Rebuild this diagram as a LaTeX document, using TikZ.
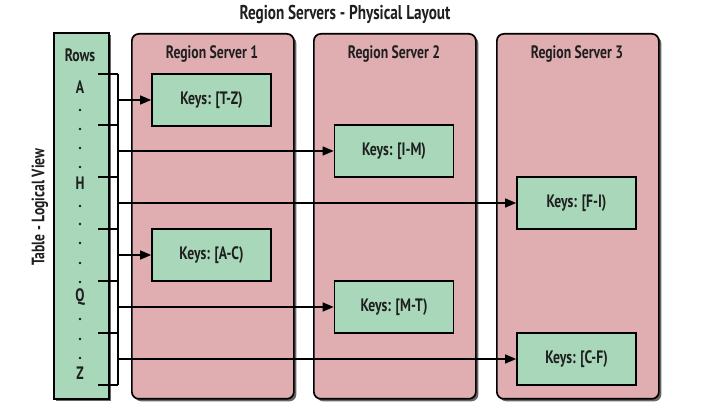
\documentclass[tikz,border=0pt]{standalone}
\usepackage{fontspec}
\setmainfont{PT Sans}[FakeStretch=0.76]
\usetikzlibrary{arrows.meta,shadows}
\definecolor{rsred}{HTML}{E0ADB1}
\definecolor{keygreen}{HTML}{A8D8B9}
\tikzset{
  every node/.style={font=\fontsize{18}{20}\selectfont\bfseries, text=black!88},
  shad/.style={drop shadow={shadow xshift=2.5pt,shadow yshift=-2.5pt,fill=black,opacity=0.6}},
  server/.style={draw=black, line width=1.7pt, fill=rsred, rounded corners=7pt, shad, inner sep=0pt, anchor=north west},
  rowcol/.style={draw=black, line width=1.7pt, fill=keygreen, shad, inner sep=0pt, anchor=north west},
  keybox/.style={draw=black, line width=1.7pt, fill=keygreen, minimum width=119pt, minimum height=52pt, inner sep=0pt},
  rowdot/.style={circle, fill=black!90, minimum size=2.6pt, inner sep=0pt},
  arr/.style={line width=1.4pt, -{Triangle[length=11pt,width=9pt]}},
  tick/.style={line width=1.4pt}
}
\begin{document}
\begin{tikzpicture}[x=1pt,y=-1pt]
\useasboundingbox (0,0) rectangle (707,419);
\node[font=\fontsize{20}{22}\selectfont\bfseries] (title) at (345,14) {Region Servers - Physical Layout};
% servers
\node[server, minimum width=162pt, minimum height=365pt] (rs1) at (131,33) {};
\node[server, minimum width=162pt, minimum height=365pt] (rs2) at (313,33) {};
\node[server, minimum width=162pt, minimum height=365pt] (rs3) at (496,33) {};
\node (rs1t) at (212,54) {Region Server 1};
\node (rs2t) at (394,54) {Region Server 2};
\node (rs3t) at (577,54) {Region Server 3};
% rows column
\node[rowcol, minimum width=55pt, minimum height=366pt] (rows) at (53,32) {};
\node (rowst) at (80,55) {Rows};
\node[rotate=90] (lv) at (40,207) {Table - Logical View};
\node (ra) at (80,87) {A};
\node (rh) at (80,183) {H};
\node (rq) at (80,297) {Q};
\node (rz) at (80,373) {Z};
\foreach \y [count=\i] in {110,129,148,167,206,224,243,263,282,319,339,358}
  \node[rowdot] (dot\i) at (80,\y) {};
% key boxes
\node[keybox] (tz) at (211.5,100) {Keys: [T-Z)};
\node[keybox] (im) at (394,151) {Keys: [I-M)};
\node[keybox] (fi) at (576.5,203) {Keys: [F-I)};
\node[keybox] (ac) at (211.5,255) {Keys: [A-C)};
\node[keybox] (mt) at (394,307) {Keys: [M-T)};
\node[keybox] (cf) at (576.5,359) {Keys: [C-F)};
% bracket
\foreach \y [count=\i] in {74,125,177,229,281,333,385}
  \coordinate (t\i) at (98,\y);
\coordinate (btop) at (118,74);
\coordinate (bbot) at (118,385);
\foreach \i in {1,...,7}
  \draw[tick] (t\i) -- ++(20,0);
\draw[tick] (btop) -- (bbot);
\foreach \y/\k [count=\i] in {100/tz,151/im,203/fi,255/ac,307/mt,359/cf}{
  \coordinate (a\i) at (118,\y);
  \draw[arr] (a\i) -- (\k.west);
}
\end{tikzpicture}
\end{document}
